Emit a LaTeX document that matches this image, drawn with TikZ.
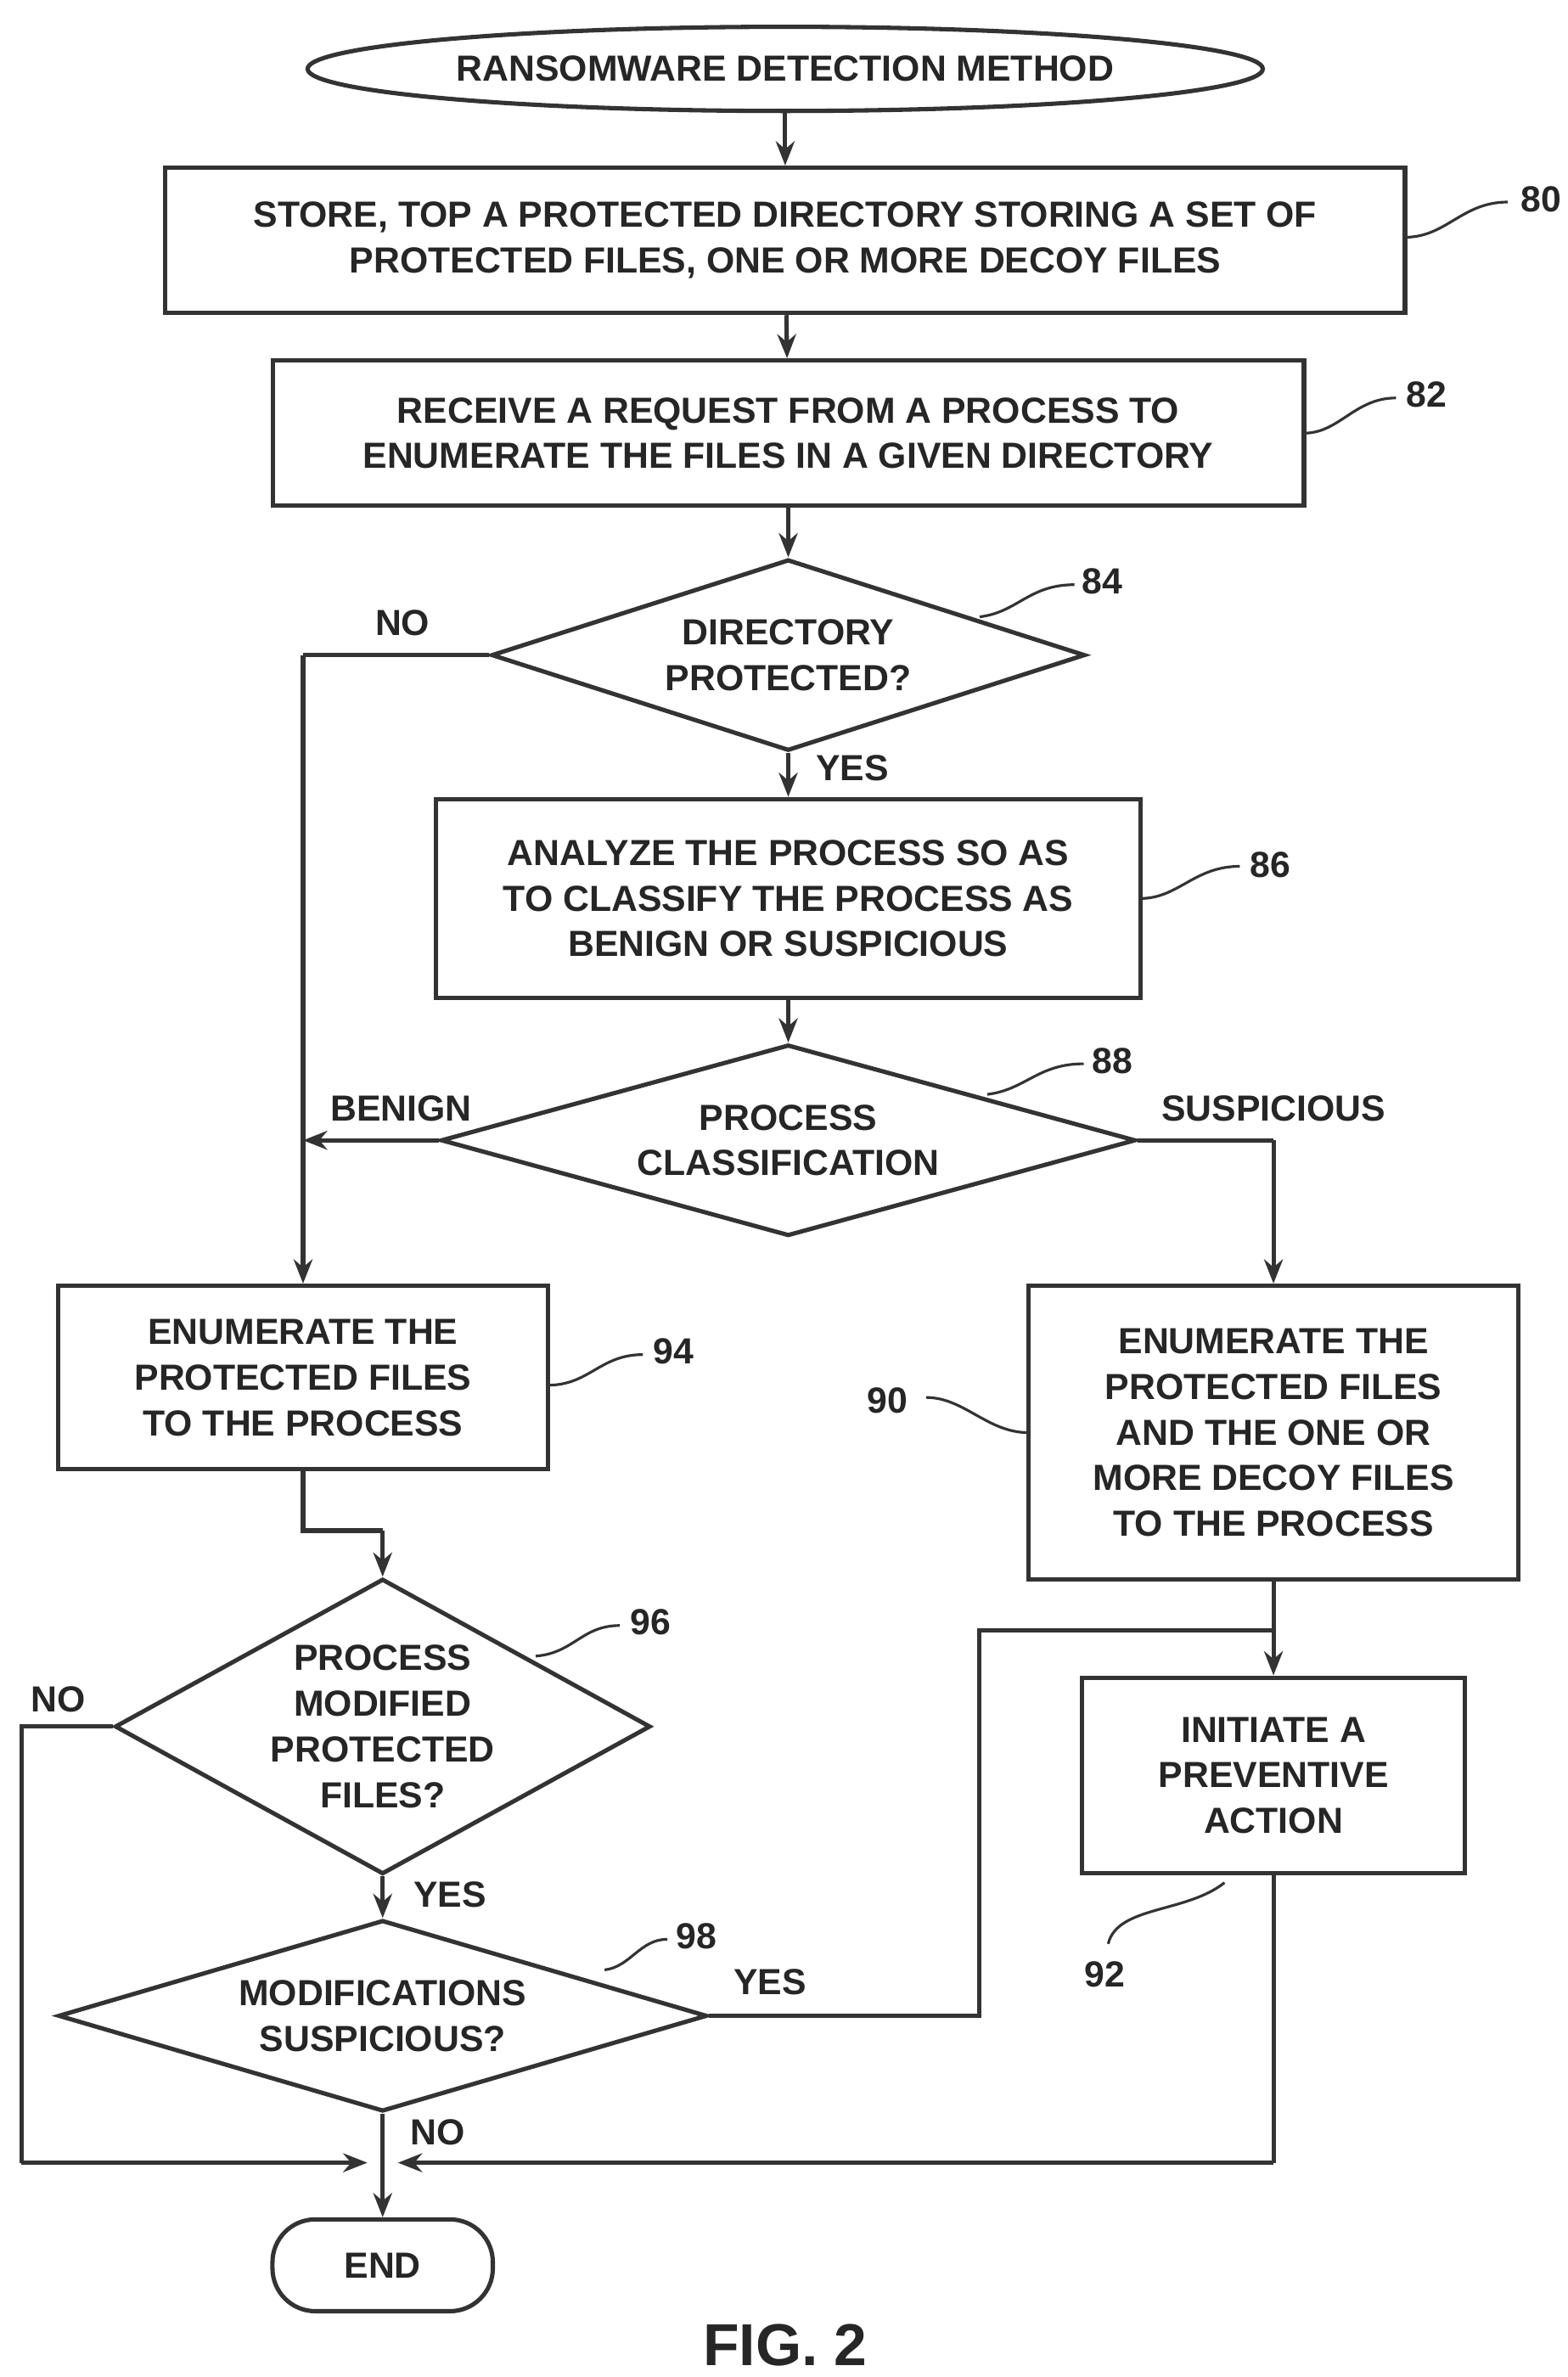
\documentclass[tikz,border=0pt]{standalone}
\usepackage{fontspec}
\setmainfont{Liberation Sans}
\usetikzlibrary{shapes.geometric,arrows.meta,positioning}
\tikzset{
  every node/.style={font=\bfseries\fontsize{13.5}{17}\selectfont, text=black!85},
  box/.style={draw, rectangle, align=center, inner sep=2pt},
  dec/.style={draw, diamond, align=center, inner sep=0pt},
  flow/.style={line width=1.6pt, draw=black!80},
  arr/.style={flow, -{Stealth[length=9pt,width=7pt]}},
  lead/.style={line width=1pt, draw=black!80},
}
\begin{document}
\begin{tikzpicture}[x=0.02cm, y=-0.02cm]
\useasboundingbox (0,0) rectangle (1024,1553);

%nodes
\node[flow, ellipse, minimum width=12cm, minimum height=1.1cm] (start) at (513,45) {RANSOMWARE DETECTION METHOD};
\node[flow, box, minimum width=16.2cm, minimum height=1.9cm] (store) at (513,157) {STORE, TOP A PROTECTED DIRECTORY STORING A SET OF\\PROTECTED FILES, ONE OR MORE DECOY FILES};
\node[flow, box, minimum width=13.48cm, minimum height=1.9cm] (receive) at (515,283) {RECEIVE A REQUEST FROM A PROCESS TO\\ENUMERATE THE FILES IN A GIVEN DIRECTORY};
\node[flow, dec, aspect=3, minimum width=7.76cm, minimum height=2.5cm] (dirprot) at (515,428) {DIRECTORY\\PROTECTED?};
\node[flow, box, minimum width=9.2cm, minimum height=2.6cm] (analyze) at (515,587) {ANALYZE THE PROCESS SO AS\\TO CLASSIFY THE PROCESS AS\\BENIGN OR SUSPICIOUS};
\node[flow, dec, aspect=3.6, minimum width=9.08cm, minimum height=2.5cm] (classif) at (515,745) {PROCESS\\CLASSIFICATION};
\node[flow, box, minimum width=6.4cm, minimum height=2.4cm] (enumben) at (198,900) {ENUMERATE THE\\PROTECTED FILES\\TO THE PROCESS};
\node[flow, box, minimum width=6.4cm, minimum height=3.84cm] (enumsusp) at (832,936) {ENUMERATE THE\\PROTECTED FILES\\AND THE ONE OR\\MORE DECOY FILES\\TO THE PROCESS};
\node[flow, dec, aspect=1.8, minimum width=7cm, minimum height=3.86cm] (modif) at (250,1128) {PROCESS\\MODIFIED\\PROTECTED\\FILES?};
\node[flow, box, minimum width=5cm, minimum height=2.56cm] (initiate) at (832,1160) {INITIATE A\\PREVENTIVE\\ACTION};
\node[flow, dec, aspect=3.4, minimum width=8.48cm, minimum height=2.5cm] (modsusp) at (250,1317) {MODIFICATIONS\\SUSPICIOUS?};
\node[flow, rectangle, rounded corners=0.56cm, minimum width=2.88cm, minimum height=1.2cm] (theend) at (250,1480) {END};
\node[font=\bfseries\fontsize{22}{26}\selectfont] (fig) at (513,1532) {FIG. 2};

%junctions
\coordinate (jtop) at (198,428);
\coordinate (jben) at (198,745);
\coordinate (jsus) at (832,745);
\coordinate (jbend) at (198,1000);
\coordinate (jbend2) at (250,1000);
\coordinate (jno1) at (14,1128);
\coordinate (jno2) at (14,1413);
\coordinate (jmid) at (250,1413);
\coordinate (jyes1) at (640,1317);
\coordinate (jyes2) at (640,1065);
\coordinate (jyes3) at (832,1065);
\coordinate (jini) at (832,1413);

%connectors
\draw[arr] (start) -- (store);
\draw[arr] (store) -- (receive);
\draw[arr] (receive) -- (dirprot);
\draw[flow] (dirprot.west) -- (jtop);
\draw[arr] (jtop) -- (enumben);
\draw[arr] (dirprot) -- (analyze);
\draw[arr] (analyze) -- (classif);
\draw[arr] (classif.west) -- (jben);
\draw[flow] (classif.east) -- (jsus);
\draw[arr] (jsus) -- (enumsusp);
\draw[flow] (enumben) -- (jbend) -- (jbend2);
\draw[arr] (jbend2) -- (modif);
\draw[flow] (modif.west) -- (jno1) -- (jno2);
\draw[arr] (jno2) -- ([xshift=-10*0.02cm]jmid);
\draw[arr] (modif) -- (modsusp);
\draw[flow] (modsusp.east) -- (jyes1) -- (jyes2) -- (jyes3);
\draw[arr] (enumsusp) -- (initiate);
\draw[arr] (modsusp) -- (theend);
\draw[flow] (initiate) -- (jini);
\draw[arr] (jini) -- ([xshift=10*0.02cm]jmid);

%branch labels
\node at (263,407) {NO};
\node at (557,502) {YES};
\node at (262,724) {BENIGN};
\node at (832,724) {SUSPICIOUS};
\node at (38,1110) {NO};
\node at (294,1238) {YES};
\node at (503,1295) {YES};
\node at (286,1393) {NO};

%reference numerals
\node (n80) at (1007,130) {80};
\draw[lead] (918,155) .. controls (945,155) and (955,132) .. (985,132);
\node (n82) at (932,258) {82};
\draw[lead] (852,283) .. controls (875,283) and (885,260) .. (912,260);
\node (n84) at (720,380) {84};
\draw[lead] (640,403) .. controls (665,400) and (672,382) .. (702,382);
\node (n86) at (830,565) {86};
\draw[lead] (745,587) .. controls (770,587) and (780,566) .. (810,566);
\node (n88) at (727,693) {88};
\draw[lead] (645,715) .. controls (670,712) and (678,695) .. (708,695);
\node (n94) at (440,883) {94};
\draw[lead] (358,905) .. controls (385,905) and (392,885) .. (420,885);
\node (n90) at (580,915) {90};
\draw[lead] (605,913) .. controls (630,913) and (645,936) .. (672,936);
\node (n96) at (425,1060) {96};
\draw[lead] (350,1082) .. controls (375,1080) and (380,1062) .. (405,1062);
\node (n98) at (455,1265) {98};
\draw[lead] (395,1287) .. controls (412,1285) and (418,1267) .. (436,1267);
\node (n92) at (722,1290) {92};
\draw[lead] (724,1270) .. controls (730,1245) and (775,1250) .. (800,1230);
\end{tikzpicture}
\end{document}
